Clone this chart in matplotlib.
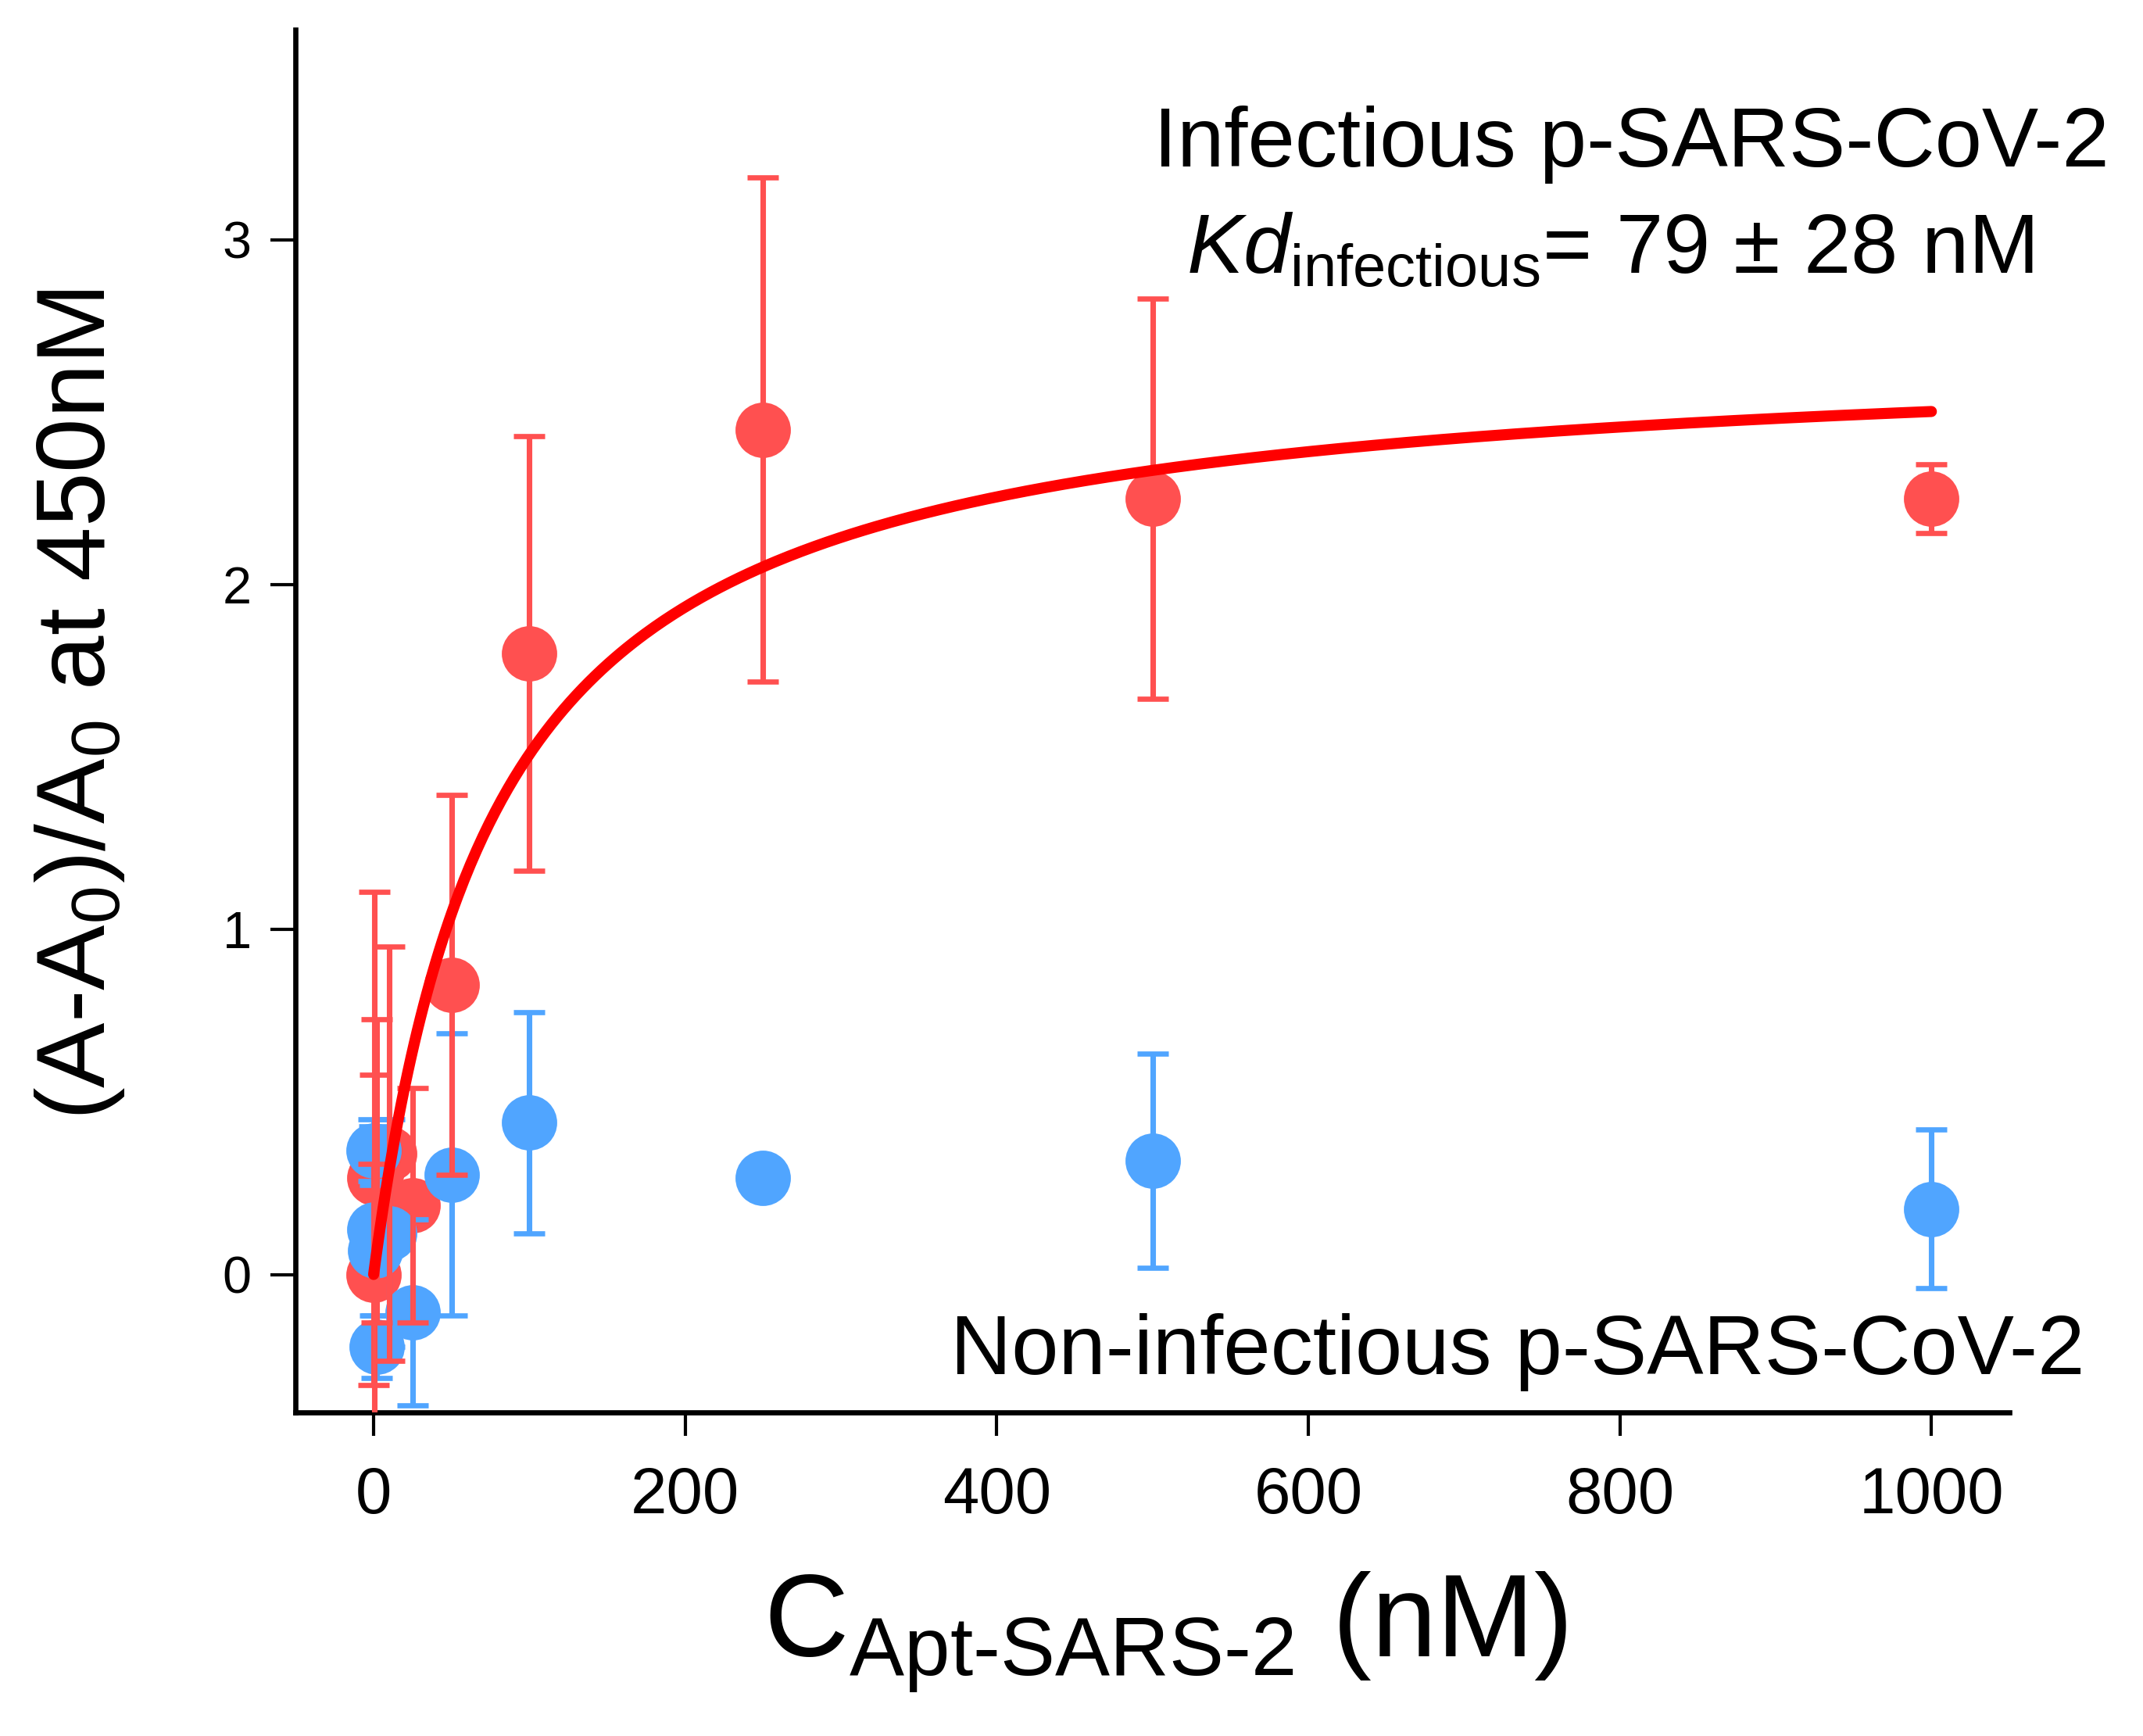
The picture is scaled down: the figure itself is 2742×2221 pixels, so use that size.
"""Binding curve of Apt-SARS-2 against infectious / non-infectious p-SARS-CoV-2
"""

import numpy as np
import matplotlib
matplotlib.use('Agg')
import matplotlib.pyplot as plt

plt.rcParams['font.family'] = ['Liberation Sans', 'DejaVu Sans']
plt.rcParams['mathtext.fontset'] = 'custom'
plt.rcParams['mathtext.rm'] = 'Liberation Sans'
plt.rcParams['mathtext.it'] = 'Liberation Sans:italic'
plt.rcParams['mathtext.bf'] = 'Liberation Sans:bold'

# concentrations (nM)
conc = [0, 0.5, 1, 2, 10, 25, 50, 100, 250, 500, 1000]

# infectious p-SARS-CoV-2
inf_y = [0.00, 0.28, 0.28, 0.30, 0.35, 0.20, 0.84, 1.80, 2.45, 2.25, 2.25]
inf_err = [0.32, 0.83, 0.30, 0.44, 0.60, 0.34, 0.55, 0.63, 0.73, 0.58, 0.10]

# non-infectious p-SARS-CoV-2
non_y = [0.36, 0.13, 0.07, -0.21, 0.12, -0.11, 0.29, 0.44, 0.28, 0.33, 0.19]
non_err = [0.09, 0.30, 0.19, 0.09, 0.33, 0.27, 0.41, 0.32, 0.03, 0.31, 0.23]

# one-site binding fit
kd = 79     # nM
bmax = 2.70

x_ticks = [0, 200, 400, 600, 800, 1000]
y_ticks = [0, 1, 2, 3]

RED = '#FF5050'
BLUE = '#50A5FF'


def main():
    fig = plt.figure(figsize=(2742/300, 2221/300), dpi=300)
    ax = fig.add_axes([0.138, 0.1864, 0.7996, 0.7966])

    ax.plot(conc, inf_y, 'o', ms=17, c=RED, mec='none', zorder=2)
    ax.plot(conc, non_y, 'o', ms=17, c=BLUE, mec='none', zorder=3)
    ax.errorbar(conc, non_y, yerr=non_err, fmt='none', ecolor=BLUE,
                elinewidth=1.7, capsize=4.8, capthick=1.6, zorder=3.5)
    ax.errorbar(conc, inf_y, yerr=inf_err, fmt='none', ecolor=RED,
                elinewidth=1.7, capsize=4.8, capthick=1.6, zorder=4)

    xf = np.linspace(0, 1000, 500)
    ax.plot(xf, bmax*xf/(kd + xf), c='#FF0000', lw=3.4,
            solid_capstyle='round', zorder=5)

    ax.set_xlim(-50, 1050)
    ax.set_ylim(-0.40, 3.61)
    ax.set_xticks(x_ticks)
    ax.set_yticks(y_ticks)
    ax.spines['top'].set_visible(False)
    ax.spines['right'].set_visible(False)
    for s in ['left', 'bottom']:
        ax.spines[s].set_linewidth(1.6)
    ax.tick_params(axis='x', direction='out', length=7.2, width=1.0,
                   labelsize=20, pad=9)
    ax.tick_params(axis='y', direction='out', length=7.6, width=1.0,
                   labelsize=16, pad=6)

    fig.text(0.9843, 0.9041, 'Infectious p-SARS-CoV-2', fontsize=26,
             ha='right', va='baseline')
    fig.text(0.5536, 0.8424, r'$Kd_{\mathrm{infectious}}$= 79 ± 28 nM',
             fontsize=26, ha='left', va='baseline')
    fig.text(0.9727, 0.2085, 'Non-infectious p-SARS-CoV-2', fontsize=26,
             ha='right', va='baseline')

    fig.text(0.5438, 0.0455, r'C$_{\text{Apt-SARS-2}}$ (nM)', fontsize=36,
             ha='center', va='baseline')
    fig.text(0.0373, 0.5943, r'(A-A$_0$)/A$_0$ at 450nM', fontsize=30,
             rotation=90, ha='center', va='center')

    fig.savefig('out.png', dpi=300)


if __name__ == "__main__":
    main()
